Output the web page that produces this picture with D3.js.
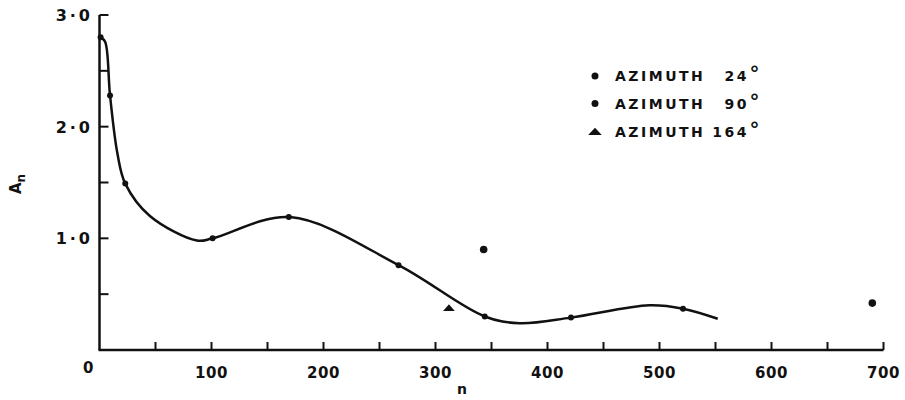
<!DOCTYPE html>
<html><head><meta charset="utf-8">
<script src="https://cdn.jsdelivr.net/npm/d3@7/dist/d3.min.js"></script>
<style>body{margin:0;background:#fff}svg{display:block}text{font-family:"DejaVu Sans",sans-serif;font-weight:bold;fill:#111}</style>
</head><body><svg id="c" width="905" height="400"></svg>
<script>
// Fitted curve
const curveN = [1,5,9.4,16,23,45,87,101,170,267,344,375,421,491,521,552];
const curveA = [2.8,2.76,2.28,1.76,1.49,1.2,0.98,1.0,1.19,0.76,0.30,0.24,0.29,0.40,0.37,0.28];
// Azimuth 24° points (on curve)
const az24N = [1,9.4,23,101,169,267,344,421,521];
const az24A = [2.8,2.28,1.49,1.0,1.19,0.76,0.30,0.29,0.37];
// Azimuth 90° points
const az90N = [343,690];
const az90A = [0.90,0.42];
// Azimuth 164° points
const az164N = [312];
const az164A = [0.37];
const xTicks = [0,100,200,300,400,500,600,700];
const yTicks = [1.0,2.0,3.0];
const legendLabels = ["24","90","164"];

const svg = d3.select("#c");
const x = d3.scaleLinear().domain([0,700]).range([99.5,883.5]);
const y = d3.scaleLinear().domain([0,3]).range([350,15]);

// axes lines
svg.append("line").attr("x1",x(0)-1).attr("x2",x(700)).attr("y1",y(0)).attr("y2",y(0)).attr("stroke","#111").attr("stroke-width",2.5);
svg.append("line").attr("x1",x(0)).attr("x2",x(0)).attr("y1",y(0)).attr("y2",y(3)).attr("stroke","#111").attr("stroke-width",2.5);
svg.selectAll(".xt").data(d3.range(50,701,50)).enter().append("line")
  .attr("x1",d=>x(d)).attr("x2",d=>x(d)).attr("y1",y(0)).attr("y2",y(0)-8).attr("stroke","#111").attr("stroke-width",2);
svg.selectAll(".yt").data(d3.range(0.5,3.01,0.5)).enter().append("line")
  .attr("x1",x(0)).attr("x2",x(0)+9).attr("y1",d=>y(d)).attr("y2",d=>y(d)).attr("stroke","#111").attr("stroke-width",2);

// tick labels
svg.selectAll(".xl").data(xTicks).enter().append("text")
  .attr("x",d=>d===0?x(d)-11:x(d)).attr("y",d=>d===0?373:377.5)
  .attr("text-anchor","middle").attr("font-size",15).attr("letter-spacing",0.5).text(d=>d);
svg.selectAll(".yl").data(yTicks).enter().append("text")
  .attr("x",93).attr("y",d=>y(d)+6).attr("text-anchor","end").attr("font-size",16).attr("letter-spacing",3)
  .text(d=>d.toFixed(1).replace(".","·"));
svg.append("text").attr("x",462).attr("y",394).attr("text-anchor","middle").attr("font-size",14).text("n");
const yl = svg.append("text").attr("transform","translate(21,184) rotate(-90)").attr("text-anchor","middle").attr("font-size",15);
yl.append("tspan").text("A");
yl.append("tspan").attr("font-size",12).attr("dy",4).text("n");

// curve
const line = d3.line().x(d=>x(d[0])).y(d=>y(d[1])).curve(d3.curveCatmullRom.alpha(0.5));
svg.append("path").datum(d3.zip(curveN,curveA)).attr("d",line).attr("fill","none").attr("stroke","#111").attr("stroke-width",2.5);

// points
svg.selectAll(".p24").data(d3.zip(az24N,az24A)).enter().append("circle")
  .attr("cx",d=>x(d[0])).attr("cy",d=>y(d[1])).attr("r",3).attr("fill","#111");
svg.selectAll(".p90").data(d3.zip(az90N,az90A)).enter().append("circle")
  .attr("cx",d=>x(d[0])).attr("cy",d=>y(d[1])).attr("r",3.8).attr("fill","#111");
const tri = d3.symbol().type(d3.symbolTriangle).size(60);
svg.selectAll(".p164").data(d3.zip(az164N,az164A)).enter().append("path")
  .attr("d",tri).attr("transform",d=>`translate(${x(d[0])},${y(d[1])}) scale(1.0,0.65)`).attr("fill","#111");

// legend
const ly = [76,103.5,131.5];
legendLabels.forEach((lab,i)=>{
  if(i<2) svg.append("circle").attr("cx",595).attr("cy",ly[i]).attr("r",3.5).attr("fill","#111");
  else svg.append("path").attr("d",tri).attr("transform",`translate(595,${ly[i]+1}) scale(1.15,0.7)`).attr("fill","#111");
  svg.append("text").attr("x",615).attr("y",ly[i]+5).attr("font-size",14).attr("letter-spacing",2.5).text("AZIMUTH");
  svg.append("text").attr("x",749).attr("y",ly[i]+5).attr("text-anchor","end").attr("font-size",14).attr("letter-spacing",2.5).text(lab);
  svg.append("text").attr("x",749.5).attr("y",ly[i]+4).attr("font-size",20).attr("font-weight","normal").text("°");
});
</script></body></html>
